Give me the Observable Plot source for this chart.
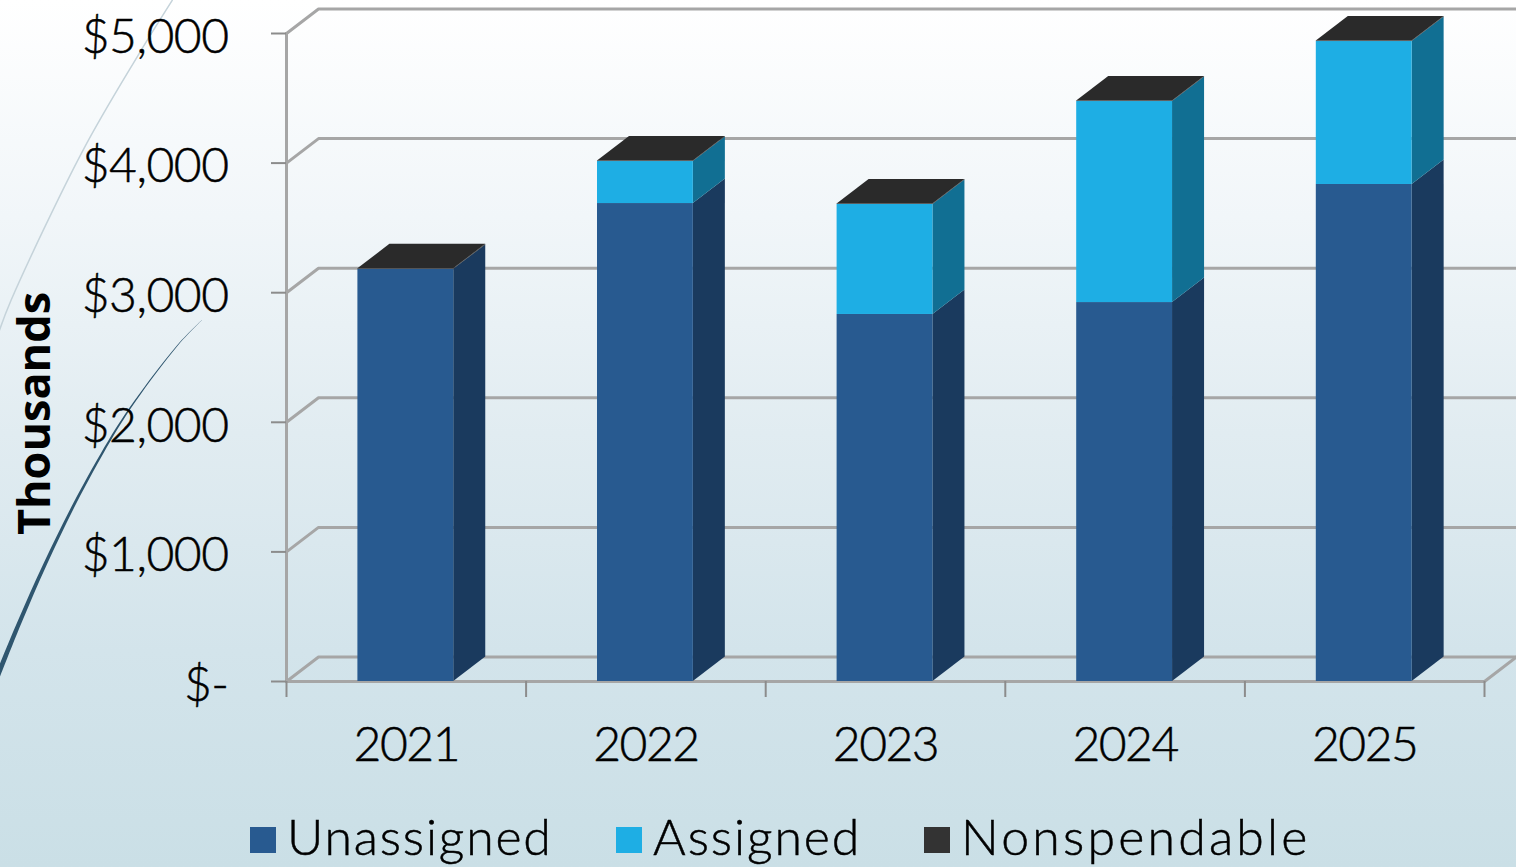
<!DOCTYPE html>
<html>
<head>
<meta charset="utf-8">
<script src="https://cdn.jsdelivr.net/npm/d3@7"></script>
<script src="https://cdn.jsdelivr.net/npm/@observablehq/plot@0.6"></script>
<style>
html,body{margin:0;padding:0;width:1516px;height:867px;overflow:hidden;
background:linear-gradient(180deg,#ffffff 0%,#f1f6f9 25%,#e1ecf1 50%,#d3e4eb 75%,#cadfe6 100%);
font-family:Lato,"Noto Sans",sans-serif;color:#000}
svg{display:block;background:transparent!important}
g[aria-label="x-axis tick label"] text{letter-spacing:-1.5px;font-weight:300;stroke:#000;stroke-width:0.5px}
g[aria-label="y-axis tick label"] text{letter-spacing:-0.5px;font-weight:300;stroke:#000;stroke-width:0.5px}
#legend{position:relative;height:52px;font-size:50px;line-height:52px;font-weight:300;font-family:Lato,"Noto Sans",sans-serif;-webkit-text-stroke:0.5px #000}
#legend span.sw{position:absolute;top:12px;width:26px;height:26px}
#legend span.tx{position:absolute;top:-5px;white-space:nowrap}
</style>
</head>
<body>
<div id="chart"></div>
<div id="legend"></div>
<script>
const years = [2021, 2022, 2023, 2024, 2025];
const unassigned = [3180, 3688, 2832, 2924, 3835];
const assigned = [0, 324, 849, 1551, 1103];
const nonspendable = [4, 4, 4, 4, 4];
const yTicks = [0, 1000, 2000, 3000, 4000, 5000];
const seriesNames = ["Unassigned", "Assigned", "Nonspendable"];
const frontColors = ["#285a90", "#1eaee4", "#333333"];
const sideColors = ["#1a3a5e", "#116f93", "#262626"];
const topColor = "#2a2a2a";
const gridColor = "#a6a6a6";
const axisColor = "#8c8c8c";
const font = 'Lato,"Noto Sans",sans-serif';

// decorative arcs, in chart units
const paleArcX = [-0.477, -0.62, -0.85, -1.15, -1.2];
const paleArcY = [5255, 4830, 4097, 2940, 2700];
const darkArcX = [-1.244, -1.194, -1.110, -1.006, -0.881, -0.735, -0.630, -0.455, -0.351];
const darkArcY = [-147, 85, 463, 899, 1373, 1860, 2160, 2585, 2785];
const darkArcW = [0.012, 0.011, 0.0095, 0.008, 0.0065, 0.005, 0.0035, 0.002, 0.0005];

const barLeft = 0.298, barRight = 0.698;   // within each category slot
const depthX = 0.1336, depthY = 189;       // oblique depth in scale units

const segments = [], sides = [], tops = [];
years.forEach((year, i) => {
  const vals = [unassigned[i], assigned[i], nonspendable[i]];
  let base = 0;
  vals.forEach((v, s) => {
    if (v > 0) {
      const l = i + barLeft, r = i + barRight;
      segments.push({x1: l, x2: r, y1: base, y2: base + v, s});
      const z = year + "-" + s;
      sides.push({z, s, xa: r, ya: base, xb: r, yb: base + v});
      sides.push({z, s, xa: r + depthX, ya: base + depthY, xb: r + depthX, yb: base + v + depthY});
    }
    base += v;
  });
  const l = i + barLeft, r = i + barRight;
  tops.push({z: year, xa: l, ya: base, xb: r, yb: base});
  tops.push({z: year, xa: l + depthX, ya: base + depthY, xb: r + depthX, yb: base + depthY});
});

const wall = [];
yTicks.forEach(v => {
  wall.push({z: v, x: 0, y: v});
  wall.push({z: v, x: depthX, y: v + depthY});
  wall.push({z: v, x: years.length + depthX, y: v + depthY});
});
const floorFront = [{x: 0, y: 0}, {x: years.length, y: 0}, {x: years.length + depthX, y: depthY}];
const leftEdge = [{x: 0, y: 0}, {x: 0, y: 5000}];

const paleArc = paleArcX.map((x, i) => ({x, y: paleArcY[i]}));
const darkArc = darkArcX.map((x, i) => ({x1: x - darkArcW[i], x2: x + darkArcW[i], y: darkArcY[i]}));

const plot = Plot.plot({
  width: 1516,
  height: 815,
  marginLeft: 286,
  marginRight: 32,
  marginTop: 33,
  marginBottom: 134,
  style: {background: "transparent", fontFamily: font, color: "#000", overflow: "visible"},
  x: {domain: [0, years.length], axis: null},
  y: {domain: [0, 5000], axis: null},
  marks: [
    Plot.line(paleArc, {x: "x", y: "y", stroke: "#c5d3da", strokeWidth: 1.5, curve: "catmull-rom"}),
    Plot.area(darkArc, {x1: "x1", x2: "x2", y1: "y", y2: "y", fill: "#2f566f", curve: "catmull-rom"}),
    Plot.line(wall, {x: "x", y: "y", z: "z", stroke: gridColor, strokeWidth: 3, strokeLinejoin: "miter"}),
    Plot.line(floorFront, {x: "x", y: "y", stroke: gridColor, strokeWidth: 3}),
    Plot.line(leftEdge, {x: "x", y: "y", stroke: gridColor, strokeWidth: 3}),
    Plot.area(sides, {x1: "xa", y1: "ya", x2: "xb", y2: "yb", z: "z", fill: d => sideColors[d.s]}),
    Plot.rect(segments, {x1: "x1", x2: "x2", y1: "y1", y2: "y2", fill: d => frontColors[d.s]}),
    Plot.area(tops, {x1: "xa", y1: "ya", x2: "xb", y2: "yb", z: "z", fill: topColor}),
    Plot.axisY({ticks: yTicks, tickSize: 15, text: null, label: null, stroke: axisColor, strokeWidth: 2}),
    Plot.axisY({
      ticks: yTicks, tickSize: 0, tickPadding: 58, label: null, dy: 4,
      fontSize: 48, fill: "#000",
      tickFormat: d => d === 0 ? "$-" : "$" + d3.format(",")(d)
    }),
    Plot.axisX({ticks: d3.range(0, years.length + 1), tickSize: 16, text: null, label: null, stroke: axisColor, strokeWidth: 2}),
    Plot.axisX({
      ticks: years.map((y, i) => i + 0.5), tickSize: 0, tickPadding: 45, label: null,
      fontSize: 48, fill: "#000", tickFormat: d => String(years[Math.floor(d)])
    }),
    Plot.text(["Thousands"], {
      frameAnchor: "left", rotate: -90, dx: -251, dy: 56, textAnchor: "middle",
      fontSize: 45, fontWeight: 700, fontFamily: '"Open Sans",sans-serif', fill: "#000", text: d => d
    })
  ]
});
document.getElementById("chart").appendChild(plot);

const swatchX = [250, 616, 924], labelX = [287, 653, 961];
const labelSpacing = [1.8, 1.9, 3.2];
const legend = document.getElementById("legend");
seriesNames.forEach((name, i) => {
  const sw = document.createElement("span");
  sw.className = "sw"; sw.style.left = swatchX[i] + "px"; sw.style.background = frontColors[i];
  const tx = document.createElement("span");
  tx.className = "tx"; tx.style.left = labelX[i] + "px"; tx.style.letterSpacing = labelSpacing[i] + "px"; tx.textContent = name;
  legend.append(sw, tx);
});
</script>
</body>
</html>
